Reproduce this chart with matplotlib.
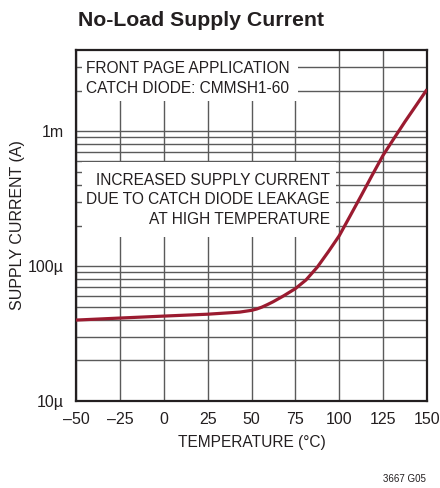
import matplotlib.pyplot as plt
from matplotlib.patches import Rectangle
from matplotlib.ticker import FixedLocator, NullFormatter

plt.rcParams['font.family'] = ['Liberation Sans Narrow', 'Liberation Sans', 'DejaVu Sans']

# temperature (°C) and supply current (A)
temperature = [-50, -25, 0, 25, 43.3, 50, 53, 56, 59, 62.3, 68.5, 75, 81, 87.5, 94, 100,
               106, 112.5, 118.75, 125, 131.25, 137.5, 143.75, 150]
current = [39.8e-6, 41.2e-6, 42.6e-6, 44.0e-6, 45.6e-6, 47.0e-6, 48.1e-6, 49.7e-6,
           51.8e-6, 54.4e-6, 60.4e-6, 68.1e-6, 78.8e-6, 98.3e-6, 129e-6, 168e-6,
           233e-6, 333e-6, 472e-6, 664e-6, 887e-6, 1.18e-3, 1.55e-3, 2.04e-3]

x_ticks = [-50, -25, 0, 25, 50, 75, 100, 125, 150]
x_labels = ['\u201350', '\u201325', '0', '25', '50', '75', '100', '125', '150']
y_ticks = [1e-5, 1e-4, 1e-3]
y_labels = ['10\u00b5', '100\u00b5', '1m']
minor_y = [m * 10.0**e for e in (-5, -4, -3) for m in range(2, 10) if m * 10.0**e < 4e-3]

fig = plt.figure(figsize=(4.4, 4.88), dpi=100)
ax = fig.add_axes([76 / 440, 87 / 488, 351 / 440, 351 / 488])

ax.plot(temperature, current, color='#9b1b30', linewidth=2.3, zorder=3,
        solid_capstyle='butt', solid_joinstyle='round')

ax.set_yscale('log')
ax.set_xlim(-50, 150)
ax.set_ylim(1e-5, 4e-3)
ax.set_xticks(x_ticks)
ax.set_xticklabels(x_labels)
ax.yaxis.set_major_locator(FixedLocator(y_ticks))
ax.set_yticklabels(y_labels)
ax.yaxis.set_minor_locator(FixedLocator(minor_y))
ax.yaxis.set_minor_formatter(NullFormatter())
ax.tick_params(axis='both', which='both', length=0, labelsize=11.5, colors='#231f20')
ax.tick_params(axis='x', pad=8)
ax.tick_params(axis='y', pad=9)

ax.set_axisbelow(True)
ax.grid(True, which='major', color='#5a5a5a', linewidth=1.0)
ax.grid(True, which='minor', axis='y', color='#5a5a5a', linewidth=1.0)
for s in ax.spines.values():
    s.set_linewidth(1.6)
    s.set_color('#231f20')

# white boxes behind the notes, hiding the grid
ax.add_patch(Rectangle((6 / 351, 300 / 351), 216 / 351, 51 / 351, transform=ax.transAxes,
                       facecolor='white', edgecolor='none', zorder=1))
ax.add_patch(Rectangle((6 / 351, 164 / 351), 254 / 351, 75 / 351, transform=ax.transAxes,
                       facecolor='white', edgecolor='none', zorder=1))

ax.text(10 / 351, (401 - 78.5) / 351, 'FRONT PAGE APPLICATION\nCATCH DIODE: CMMSH1-60',
        transform=ax.transAxes, ha='left', va='center', fontsize=11.2, linespacing=1.45,
        color='#231f20', zorder=2)
ax.text(254 / 351, (401 - 200) / 351,
        'INCREASED SUPPLY CURRENT\nDUE TO CATCH DIODE LEAKAGE\nAT HIGH TEMPERATURE',
        transform=ax.transAxes, ha='right', va='center', fontsize=11.2, linespacing=1.4,
        color='#231f20', zorder=2, multialignment='right')

ax.set_xlabel('TEMPERATURE (\u00b0C)', fontsize=11.2, color='#231f20', labelpad=6)
ax.set_ylabel('SUPPLY CURRENT (A)', fontsize=11.5, color='#231f20', labelpad=2)

fig.text(78 / 440, 1 - 20 / 488, 'No-Load Supply Current', fontsize=15.3, fontweight='bold',
         ha='left', va='center', color='#231f20')
fig.text(426 / 440, 1 - 479 / 488, '3667 G05', fontsize=7, ha='right', va='center',
         color='#231f20')

fig.savefig('out.png', dpi=100)
